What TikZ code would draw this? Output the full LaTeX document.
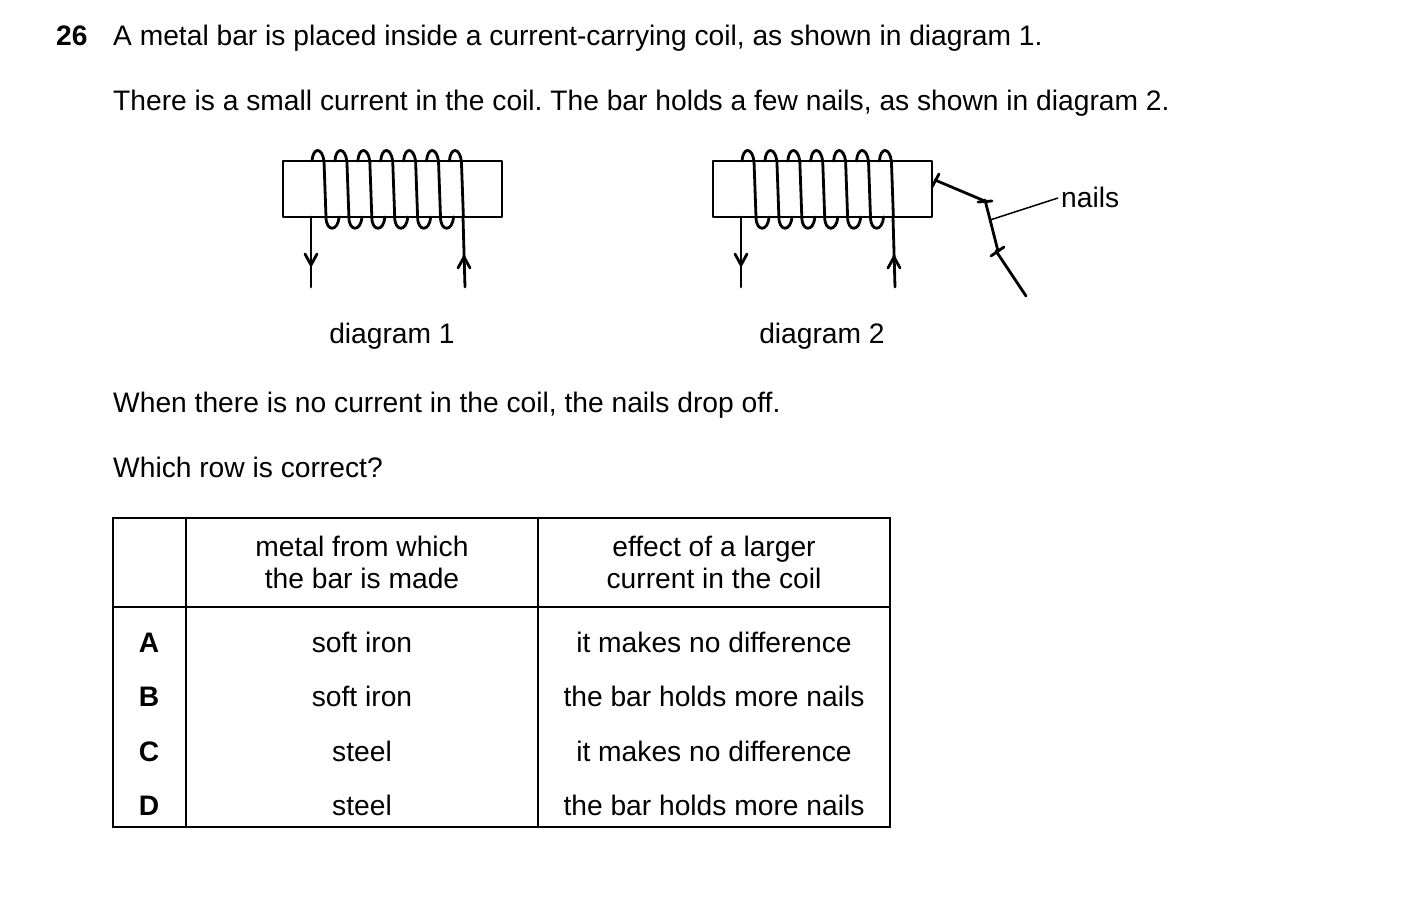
\documentclass[tikz,border=0pt]{standalone}
\usepackage{fontspec}
\setmainfont{Liberation Sans}
\begin{document}
\frenchspacing
\begin{tikzpicture}[x=1pt,y=-1pt,
  txt/.style={anchor=base west,inner sep=0,font=\fontsize{28.2}{32}\selectfont},
  ctr/.style={anchor=base,inner sep=0,font=\fontsize{28.2}{32}\selectfont},
  w/.style={line width=2.8pt,line cap=round,line join=round},
  th/.style={line width=1.5pt}]
\useasboundingbox (0,0) rectangle (1403,920);
\node[txt,font=\fontsize{28.2}{32}\selectfont\bfseries] (n26) at (56,46) {26};
\node[txt] (l1) at (113,46) {A metal bar is placed inside a current-carrying coil, as shown in diagram 1.};
\node[txt] (l2) at (113,111) {There is a small current in the coil. The bar holds a few nails, as shown in diagram 2.};
\foreach \dx/\nm in {0/one,430/two}{
  \begin{scope}[xshift=\dx]
    \draw[w] (283,161) rectangle (502,217);
    \foreach \i in {0,...,6}{
      \pgfmathsetmacro\xo{317+22.9*\i}
      \draw[w] (\xo-5,161) .. controls (\xo-4,147) and (\xo+5,147) .. (\xo+7,161) -- (\xo+9,217);
      \ifnum\i<6
      \draw[w] (\xo+9,217) .. controls (\xo+9,232) and (\xo+21,232) .. (\xo+22,217);
      \fi
    }
    \draw[w] (311,217) -- (311,287);
    \draw[w] (305,254) -- (311,265) -- (317,254);
    \draw[w] (463,217) -- (465,287);
    \draw[w] (458,268) -- (464,257) -- (470,268);
  \end{scope}}
\node[ctr] (d1) at (392,343) {diagram 1};
\node[ctr] (d2) at (822,343) {diagram 2};
% nails
\draw[w] (935,180) -- (987,202);
\draw[w] (932,187) -- (939,174);
\draw[w] (978,202) -- (992,201);
\draw[w] (985,200) -- (998,251);
\draw[w] (991,256) -- (1004,247);
\draw[w] (996,251) -- (1026,296);
\coordinate (nl) at (990,220);
\node[txt] (nails) at (1061,208) {nails};
\draw[th] (nl) -- (1058,198);
\node[txt] (l3) at (113,412) {When there is no current in the coil, the nails drop off.};
\node[txt] (l4) at (113,477) {Which row is correct?};
% table
\draw[th] (113,518) rectangle (890,827);
\draw[th] (186,518) -- (186,827);
\draw[th] (538,518) -- (538,827);
\draw[th] (113,607) -- (890,607);
\node[ctr] (h1a) at (362,556) {metal from which};
\node[ctr] (h1b) at (362,588) {the bar is made};
\node[ctr] (h2a) at (714,556) {effect of a larger};
\node[ctr] (h2b) at (714,588) {current in the coil};
\foreach \y/\L/\m/\e in {652/A/soft iron/it makes no difference,706/B/soft iron/the bar holds more nails,761/C/steel/it makes no difference,815/D/steel/the bar holds more nails}{
  \node[ctr,font=\fontsize{28.2}{32}\selectfont\bfseries] at (149,\y) {\L};
  \node[ctr] at (362,\y) {\m};
  \node[ctr] at (714,\y) {\e};
}
\end{tikzpicture}
\end{document}
